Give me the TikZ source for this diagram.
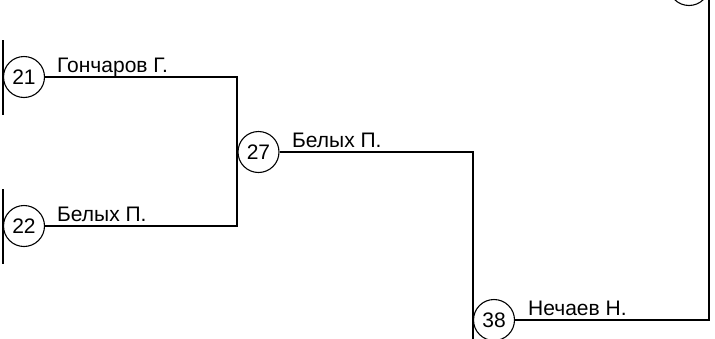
\documentclass[tikz,border=0pt]{standalone}
\usepackage{fontspec}
\setmainfont{Liberation Sans}
\begin{document}
\begin{tikzpicture}[x=1pt,y=-1pt,
  seat/.style={draw, circle, line width=1.1pt, minimum size=41pt, inner sep=0pt, font=\fontsize{21}{23}\selectfont},
  wire/.style={draw, line width=1.1pt},
  playerlbl/.style={anchor=base west, inner sep=0pt, font=\fontsize{21}{23}\selectfont}]
\clip (0,0) rectangle (715,338);
\fill[white] (0,0) rectangle (715,338);
% circles
\node[seat] (c21) at (24,77) {21};
\node[seat] (c22) at (24,226) {22};
\node[seat] (c27) at (258.5,152) {27};
\node[seat] (c38) at (494,320) {38};
\node[seat] (ctop) at (689,-15) {};
% junction coordinates
\coordinate (j21) at (237,77);
\coordinate (j22) at (237,226);
\coordinate (j27) at (473,152);
\coordinate (j38) at (709,320);
\coordinate (jtop) at (709,-5);
\coordinate (jbot) at (473,345);
\coordinate (l21a) at (3,40);
\coordinate (l21b) at (3,115);
\coordinate (l22a) at (3,189);
\coordinate (l22b) at (3,264);
% connectors
\draw[wire] (c21.east) -- (j21) -- (j22) -- (c22.east);
\draw[wire] (c27.east) -- (j27) -- (jbot);
\draw[wire] (c38.east) -- (j38) -- (jtop);
\draw[wire] (l21a) -- (l21b);
\draw[wire] (l22a) -- (l22b);
% labels
\node[playerlbl] (n21) at (57,72) {Гончаров Г.};
\node[playerlbl] (n22) at (57,221) {Белых П.};
\node[playerlbl] (n27) at (292,147) {Белых П.};
\node[playerlbl] (n38) at (528,315) {Нечаев Н.};
\end{tikzpicture}
\end{document}
